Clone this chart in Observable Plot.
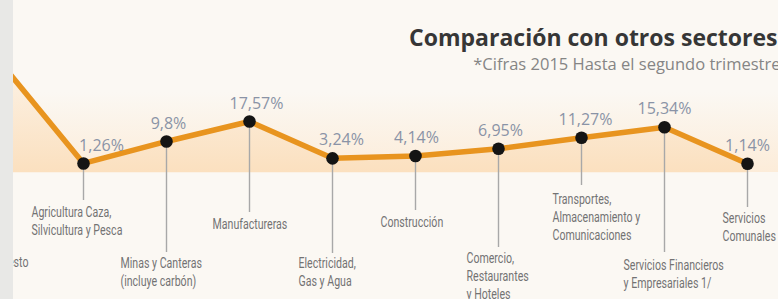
<!DOCTYPE html>
<html><head><meta charset="utf-8">
<script src="https://cdn.jsdelivr.net/npm/d3@7"></script>
<script src="https://cdn.jsdelivr.net/npm/@observablehq/plot@0.6"></script>
<style>
html,body{margin:0;padding:0;background:#fbf8f3;}
#wrap{position:relative;width:778px;height:299px;overflow:hidden;
  background:linear-gradient(to bottom,#fbf8f3 0px,#fbf8f3 92px,#fcecd9 172px,#fbf8f3 172px,#fbf8f3 299px);}
#wrap svg{position:absolute;left:0;top:0;}
#strip{position:absolute;left:0;top:0;width:13px;height:299px;background:#e8e8e6;}
</style></head><body>
<div id="wrap"><div id="strip"></div></div>
<script>
// ---- data ----
const categories = [
  "Presupuesto",
  "Agricultura Caza,\nSilvicultura y Pesca",
  "Minas y Canteras\n(incluye carbón)",
  "Manufactureras",
  "Electricidad,\nGas y Agua",
  "Construcción",
  "Comercio,\nRestaurantes\ny Hoteles",
  "Transportes,\nAlmacenamiento y\nComunicaciones",
  "Servicios Financieros\ny Empresariales 1/",
  "Servicios\nComunales"
];
const values = [40.5, 1.26, 9.8, 17.57, 3.24, 4.14, 6.95, 11.27, 15.34, 1.14];
const valueLabels = ["", "1,26%", "9,8%", "17,57%", "3,24%", "4,14%", "6,95%", "11,27%", "15,34%", "1,14%"];
const title = "Comparación con otros sectores";
const subtitle = "*Cifras 2015 Hasta el segundo trimestre";

// ---- layout (pixels) ----
const labelCenter = [262, 212, 263, 224, 263, 222, 258, 199, 265, 218];
const labelDx = [28, -52, -46, -37, -34, -35, -32, -29, -41, -25];
const dropBottom = [250, 200, 252, 212, 253, 210, 247, 185, 252, 207];
const valueDx = [0, 18, 2, 7, 9, 1, 2, 4, 0, 0];

const rows = categories.map((c, i) => ({cat: c, value: values[i], label: valueLabels[i], i}));
const Y0 = 166.2, K = 2.575;
const inv = px => (Y0 - px) / K;

const labelFont = "Roboto,'DejaVu Sans Condensed',sans-serif";
const numFont = "'Open Sans',sans-serif";
const LFS = 15.5;

const chart = Plot.plot({
  width: 778, height: 299, margin: 0,
  style: {background: "transparent"},
  x: {type: "point", domain: categories, range: [-3.75, 750], padding: 0, axis: null},
  y: {domain: [0, 40], range: [Y0, Y0 - 40 * K], axis: null},
  marks: [
    Plot.areaY(rows, {x: "cat", y1: -2.35, y2: "value", fill: "url(#peach)"}),
    Plot.ruleX(rows, {x: "cat", y1: "value", y2: d => inv(dropBottom[d.i]), stroke: "#a8a8a8", strokeWidth: 1.4}),
    Plot.line(rows, {x: "cat", y: "value", stroke: "#e8941f", strokeWidth: 5.5, strokeLinejoin: "round"}),
    Plot.dot(rows, {x: "cat", y: "value", r: 6.3, fill: "#141414"}),
    ...rows.filter(d => d.label).map(d => Plot.text([d], {
      x: "cat", y: "value", text: "label", dy: -18, dx: valueDx[d.i],
      fill: "#8a93a6", fontSize: 16, fontFamily: numFont, lineAnchor: "middle"
    })),
    ...rows.map(d => Plot.text([d], {
      x: "cat", text: "cat", frameAnchor: "top", dy: labelCenter[d.i] - 8, dx: labelDx[d.i],
      textAnchor: d.i === 0 ? "end" : "start", lineAnchor: "top", lineHeight: 1.16,
      fill: "#737373", fontSize: LFS, fontFamily: labelFont
    })),
    Plot.text([title], {text: d => d, frameAnchor: "top-right", dy: 38, dx: -1, textAnchor: "end",
      lineAnchor: "middle", fontWeight: 700, fontSize: 23, fill: "#363636", fontFamily: numFont}),
    Plot.text([subtitle], {text: d => d, frameAnchor: "top-right", dy: 64, dx: 2, textAnchor: "end",
      lineAnchor: "middle", fontSize: 16.5, letterSpacing: 0.2, fill: "#858585", fontFamily: numFont})
  ]
});

const defs = d3.select(chart).insert("defs", ":first-child");
const g = defs.append("linearGradient").attr("id", "peach").attr("gradientUnits", "userSpaceOnUse")
  .attr("x1", 0).attr("x2", 0).attr("y1", 60).attr("y2", 172);
g.append("stop").attr("offset", 0).attr("stop-color", "#fcf3e8");
g.append("stop").attr("offset", 1).attr("stop-color", "#fbe0bf");

const wrap = document.getElementById("wrap");
wrap.insertBefore(chart, document.getElementById("strip"));

// condense the category labels horizontally (narrow typeface in the original)
const flat = new Set(categories.map(c => c.replace(/\n/g, "")));
const labelTexts = [];
d3.select(chart).selectAll("text").each(function() {
  if (flat.has(this.textContent)) labelTexts.push(this);
});
let s = 0.62;
const ref = labelTexts.find(t => t.textContent.startsWith("Agricultura"));
if (ref) {
  const first = ref.querySelector("tspan") || ref;
  const len = first.getComputedTextLength();
  if (len > 0) s = 80 / len;
}
for (const t of labelTexts) {
  const tr = t.getAttribute("transform");
  if (tr) t.setAttribute("transform", tr + ` scale(${s},1)`);
  else {
    const x = +t.getAttribute("x") || 0, y = +t.getAttribute("y") || 0;
    t.setAttribute("transform", `translate(${x},${y}) scale(${s},1) translate(${-x},${-y})`);
  }
}
</script>
</body></html>
